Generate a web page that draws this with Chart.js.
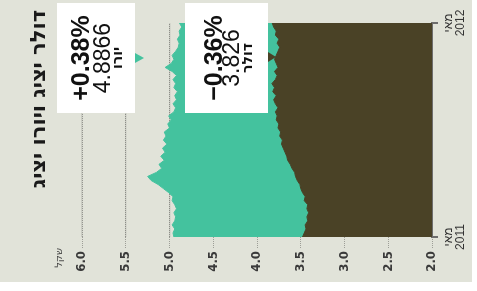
<!DOCTYPE html>
<html lang="he">
<head>
<meta charset="utf-8">
<script src="https://cdn.jsdelivr.net/npm/chart.js@4"></script>
<style>
html,body{margin:0;padding:0;background:#ffffff;width:477px;height:291px;overflow:hidden;}
#rot{position:absolute;left:0;top:0;width:291px;height:477px;transform-origin:0 0;transform:translateY(291px) rotate(-90deg);}
#panel{position:absolute;left:9px;top:0;width:282px;height:472px;background:#e1e3d9;}
#c{position:absolute;left:0;top:0;}
.t{position:absolute;white-space:nowrap;}
#title{right:10px;top:28px;font-family:"DejaVu Sans",sans-serif;font-weight:bold;font-size:21px;line-height:21px;color:#1a1a1a;direction:rtl;text-align:right;}
#unit{right:248px;top:54px;font-family:"DejaVu Sans",sans-serif;font-size:10px;line-height:10px;color:#444;direction:rtl;}
.box{position:absolute;left:178px;width:110px;background:#ffffff;}
.box .t{left:0;width:100%;text-align:center;color:#111;}
.pct{font-family:"Liberation Sans",Arial,sans-serif;font-weight:bold;font-size:25px;line-height:25px;}
.val{font-family:"Liberation Sans",Arial,sans-serif;font-size:23px;line-height:23px;}
.cur{font-family:"DejaVu Sans",sans-serif;font-weight:bold;font-size:14px;line-height:14px;direction:rtl;}
.ptr{position:absolute;width:0;height:0;border-left:5.5px solid transparent;border-right:5.5px solid transparent;}
</style>
</head>
<body>
<div id="rot">
  <div id="panel"></div>
  <canvas id="c" width="291" height="477"></canvas>
  <div class="t" id="title">דולר יציג ויורו יציג</div>
  <div class="t" id="unit">שקל</div>
  <div class="box" style="top:57px;height:78px;">
    <div class="t pct" style="top:11px;">+0.38%</div>
    <div class="t val" style="top:34px;">4.8866</div>
    <div class="t cur" style="top:53px;">יורו</div>
  </div>
  <div class="ptr" style="left:228px;top:135px;border-top:9px solid #44c29e;"></div>
  <div class="box" style="top:185px;height:83px;">
    <div class="t pct" style="top:16px;">−0.36%</div>
    <div class="t val" style="top:35px;">3.826</div>
    <div class="t cur" style="top:55px;">דולר</div>
  </div>
  <div class="ptr" style="left:229px;top:268px;border-top:8px solid #4a4226;"></div>
</div>
<script>
// Weekly observations, May 2011 – May 2012
const dates = ['2011-05-06','2011-05-13','2011-05-20','2011-05-27','2011-06-03','2011-06-10','2011-06-17','2011-06-24',
  '2011-07-01','2011-07-08','2011-07-15','2011-07-22','2011-07-29','2011-08-05','2011-08-12','2011-08-19','2011-08-26',
  '2011-09-02','2011-09-09','2011-09-16','2011-09-23','2011-09-30','2011-10-07','2011-10-14','2011-10-21','2011-10-28',
  '2011-11-04','2011-11-11','2011-11-18','2011-11-25','2011-12-02','2011-12-09','2011-12-16','2011-12-23','2011-12-30',
  '2012-01-06','2012-01-13','2012-01-20','2012-01-27','2012-02-03','2012-02-10','2012-02-17','2012-02-24','2012-03-02',
  '2012-03-09','2012-03-16','2012-03-23','2012-03-30','2012-04-06','2012-04-13','2012-04-20','2012-04-27','2012-05-04','2012-05-11'];
const euro = [4.95,4.96,4.94,4.97,4.94,4.93,4.95,4.92,4.94,4.97,4.96,5.01,5.07,5.13,5.21,5.25,5.15,5.09,5.12,5.06,
  5.10,5.05,5.08,5.03,5.07,5.04,5.06,5.00,5.02,4.98,5.01,4.95,4.93,4.96,4.92,4.94,4.91,4.95,4.93,4.96,
  4.92,4.97,5.05,4.98,4.95,4.97,4.93,4.90,4.89,4.91,4.88,4.89,4.86,4.8866];
const dollar = [3.48,3.46,3.44,3.45,3.42,3.43,3.41,3.43,3.42,3.46,3.45,3.48,3.50,3.51,3.54,3.56,3.57,3.60,3.62,3.65,
  3.66,3.68,3.70,3.72,3.71,3.74,3.73,3.76,3.75,3.78,3.77,3.79,3.76,3.79,3.81,3.78,3.82,3.80,3.83,3.79,
  3.77,3.80,3.76,3.78,3.80,3.78,3.76,3.74,3.77,3.75,3.79,3.78,3.81,3.826];
const axisTicks = [['מאי','2011'],['מאי','2012']];
const valueMin = 2.0, valueMax = 6.0, valueStep = 0.5;

const last = dates.length - 1;
new Chart(document.getElementById('c'), {
  type: 'line',
  data: {
    labels: dates,
    datasets: [
      {label:'דולר', data: dollar, fill:'start', backgroundColor:'#4a4226', borderColor:'#4a4226', borderWidth:1, pointRadius:0, tension:0, order:0},
      {label:'יורו', data: euro, fill:'start', backgroundColor:'#44c29e', borderColor:'#44c29e', borderWidth:1, pointRadius:0, tension:0, order:1}
    ]
  },
  options: {
    responsive:false, animation:false, devicePixelRatio:1,
    layout:{padding:{top:82,right:23,left:0,bottom:0}},
    plugins:{legend:{display:false}, tooltip:{enabled:false}},
    scales:{
      x:{
        type:'category', offset:false, z:2,
        afterFit(s){ s.height = 45; },
        grid:{drawOnChartArea:false, drawTicks:true, tickLength:6, lineWidth:2,
          color:(c)=> (c.index===0 || c.index===last) ? '#6d6d6d' : 'rgba(0,0,0,0)'},
        border:{display:true, color:'#6d6d6d', width:2},
        ticks:{autoSkip:false, maxRotation:0, minRotation:0, padding:5, color:'#333',
          font:{family:'"Liberation Sans", Arial, sans-serif', size:12, lineHeight:1.0},
          callback:(v,i)=> i===0 ? axisTicks[0] : (i===last ? axisTicks[1] : '')}
      },
      y:{
        min:valueMin, max:valueMax, z:1,
        afterFit(s){ s.width = 54; },
        ticks:{stepSize:valueStep, padding:3, color:'#3a3a3a',
          font:{family:'"Liberation Sans Narrow", "DejaVu Sans Condensed", sans-serif', size:13, weight:'bold'},
          callback:(v)=> Number(v).toFixed(1)},
        grid:{color:'rgba(0,0,0,0.3)', lineWidth:1, tickLength:11, drawTicks:true, tickBorderDash:[1,1]},
        border:{display:false, dash:[1,1]}
      },
      y2:{
        position:'left', min:valueMin, max:valueMax, z:1, display:true,
        afterFit(s){ s.width = 0; },
        ticks:{display:false, stepSize:valueStep},
        grid:{color:'rgba(0,0,0,0.1)', lineWidth:1.5, drawTicks:false},
        border:{display:false}
      }
    }
  }
});
</script>
</body>
</html>
